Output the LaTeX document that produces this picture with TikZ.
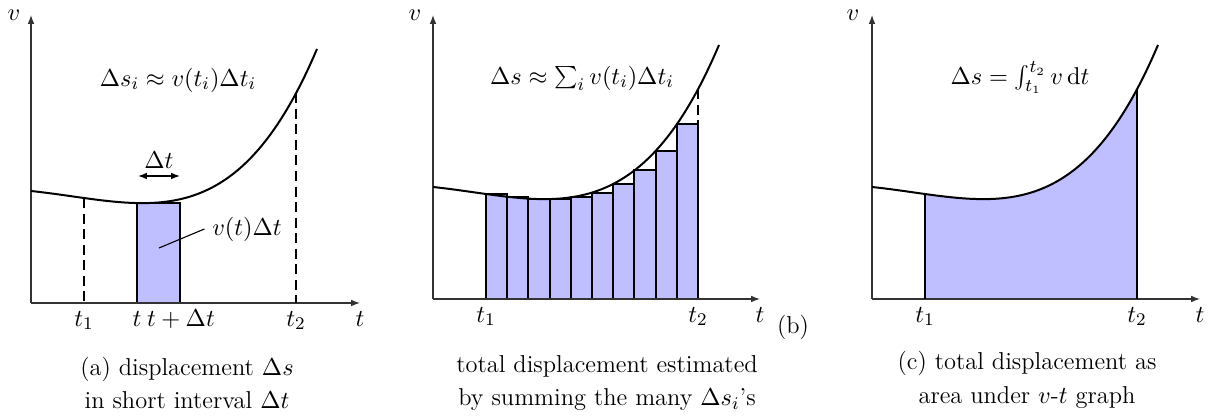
\documentclass[tikz,border=0pt]{standalone}
\usetikzlibrary{arrows.meta}
\tikzset{
  axis/.style={line width=0.5pt, black!80, -{Latex[length=4pt,width=3pt]}},
  vcurve/.style={line width=0.9pt},
  bar/.style={line width=0.9pt, fill=blue!25},
  guide/.style={line width=0.9pt, dash pattern=on 4.5pt off 2.5pt},
  lbl/.style={font=\fontsize{11}{13}\selectfont},
  tick/.style={lbl, anchor=north, text height=1.6ex, text depth=0.5ex},
  caption/.style={align=center, font=\fontsize{11}{15}\selectfont},
  declare function={vel(\u)=112-30.5*(\u/286)-65*(\u/286)^2+114.9*(\u/286)^3+122.65*(\u/286)^4;}
}

\begin{document}
\begin{tikzpicture}[x=0.45pt, y=0.45pt]
    \useasboundingbox (0,0) rectangle (1211,-420);

    % (a) one short interval
    \begin{scope}[shift={(31,-303)}]
        \coordinate (Oa) at (0,0);
        \coordinate (Xa) at (329,0);
        \coordinate (Ya) at (0,288);
        \draw[bar] (106,0) rectangle (149,{vel(106)});
        \draw[axis] (Oa) -- (Xa);
        \draw[axis] (Oa) -- (Ya);
        \draw[vcurve] plot[domain=0:286, samples=80, smooth] (\x,{vel(\x)});
        \coordinate (t1a) at (53,{vel(53)});
        \coordinate (t2a) at (265,{vel(265)});
        \draw[guide] (t1a) -- (53,0);
        \draw[guide] (t2a) -- (265,0);
        % labels
        \node[lbl] (va) at (-17,288) {$v$};
        \node[tick] (ta) at (329,0) {$t$};
        \node[tick] (ta1) at (53,0) {$t_1$};
        \node[tick] (ta2) at (265,0) {$t_2$};
        \node[tick] (tt) at (106,0) {$t$};
        \node[tick] (ttdt) at (150,0) {$t+\Delta t$};
        \node[lbl] (dsi) at (147,223) {$\Delta s_i \approx v(t_i)\Delta t_i$};
        \node[lbl] (dtl) at (128,143) {$\Delta t$};
        \coordinate (dl) at (107,127);
        \coordinate (dr) at (149,127);
        \draw[{Latex[length=4pt,width=3pt]}-{Latex[length=4pt,width=3pt]}, line width=0.6pt] (dl) -- (dr);
        \coordinate (pa) at (128,55);
        \node[lbl] (vdt) at (216,74) {$v(t)\Delta t$};
        \draw[line width=0.5pt] (pa) -- (vdt.west);
        \node[caption] (capa) at (156,-80) {(a) displacement $\Delta s$\\in short interval $\Delta t$};
    \end{scope}

    % (b) many intervals
    \begin{scope}[shift={(433,-299)}]
        \coordinate (Ob) at (0,0);
        \coordinate (Xb) at (327,0);
        \coordinate (Yb) at (0,284);
        \foreach \i in {0,...,9}{
            \pgfmathsetmacro{\ul}{53+21.2*\i}
            \pgfmathsetmacro{\hb}{vel(\ul)}
            \draw[bar] (\ul,0) rectangle ({\ul+21.2},\hb);
        }
        \draw[axis] (Ob) -- (Xb);
        \draw[axis] (Ob) -- (Yb);
        \draw[vcurve] plot[domain=0:286, samples=80, smooth] (\x,{vel(\x)});
        \coordinate (t2b) at (265,{vel(265)});
        \coordinate (topb) at (265,{vel(243.8)});
        \draw[guide, line width=0.7pt] (t2b) -- (topb);
        % labels
        \node[lbl] (vb) at (-18,284) {$v$};
        \node[tick] (tb) at (327,0) {$t$};
        \node[tick] (tb1) at (53,0) {$t_1$};
        \node[tick] (tb2) at (265,0) {$t_2$};
        \node[lbl] (bb) at (360,-28) {(b)};
        \node[lbl] (ds) at (149,221) {$\Delta s \approx \sum_i v(t_i)\Delta t_i$};
        \node[caption] (capb) at (174,-84) {total displacement estimated\\by summing the many $\Delta s_i$'s};
    \end{scope}

    % (c) area under the graph
    \begin{scope}[shift={(872,-299)}]
        \coordinate (Oc) at (0,0);
        \coordinate (Xc) at (328,0);
        \coordinate (Yc) at (0,284);
        \fill[blue!25] (53,0) -- plot[domain=53:265, samples=60, smooth] (\x,{vel(\x)}) -- (265,0) -- cycle;
        \draw[axis] (Oc) -- (Xc);
        \draw[axis] (Oc) -- (Yc);
        \draw[vcurve] plot[domain=0:286, samples=80, smooth] (\x,{vel(\x)});
        \coordinate (t1c) at (53,{vel(53)});
        \coordinate (t2c) at (265,{vel(265)});
        \draw[line width=0.9pt] (t1c) -- (53,0);
        \draw[line width=0.9pt] (t2c) -- (265,0);
        % labels
        \node[lbl] (vc) at (-19,284) {$v$};
        \node[tick] (tc) at (328,0) {$t$};
        \node[tick] (tc1) at (53,0) {$t_1$};
        \node[tick] (tc2) at (265,0) {$t_2$};
        \node[lbl] (dsc) at (148,221) {$\Delta s = \int_{t_1}^{t_2} v\,\mathrm{d}t$};
        \node[caption] (capc) at (155,-81) {(c) total displacement as\\area under $v$-$t$ graph};
    \end{scope}
\end{tikzpicture}
\end{document}
